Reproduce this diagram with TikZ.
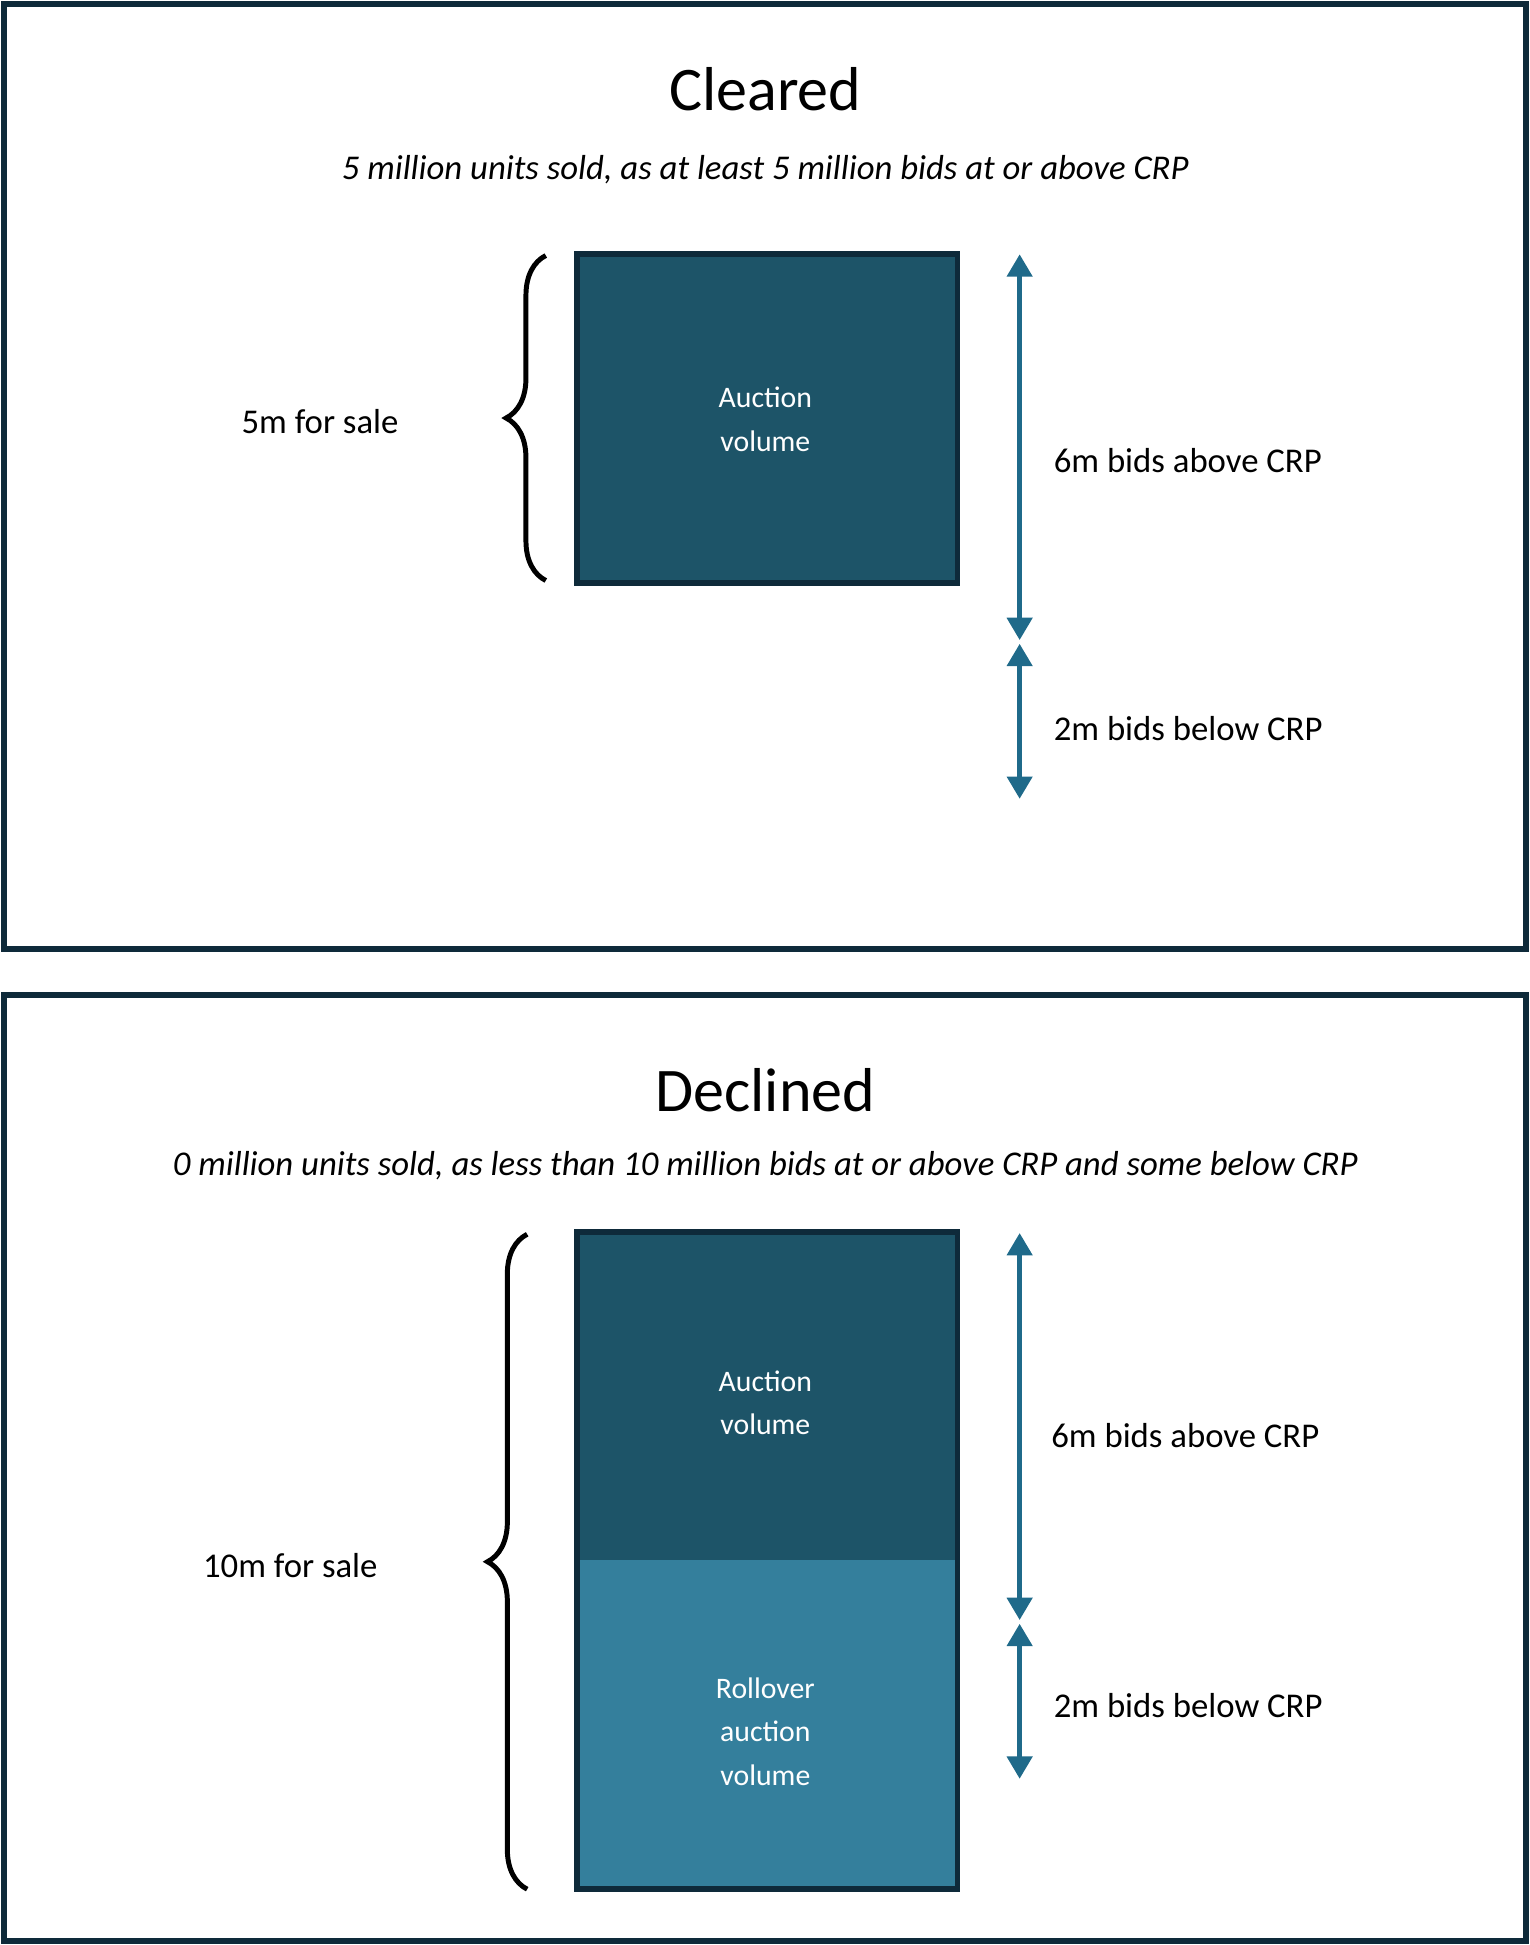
\documentclass[tikz,border=0pt]{standalone}
\usepackage{fontspec}
\setmainfont{Carlito}
\usetikzlibrary{decorations.pathreplacing,arrows.meta}
\definecolor{navy}{HTML}{0E2A3A}
\definecolor{dark}{HTML}{1D5468}
\definecolor{light}{HTML}{347F9C}
\definecolor{arr}{HTML}{1F6A8A}
\tikzset{
 panel/.style={draw=navy,line width=5pt},
 vol/.style={draw=navy,line width=4.5pt},
 voltext/.style={text=white,font=\fontsize{24}{35}\selectfont,align=center},
 title/.style={font=\fontsize{50}{60}\selectfont},
 sub/.style={font=\fontsize{28}{34}\selectfont\itshape},
 lbl/.style={font=\fontsize{28}{34}\selectfont},
 brc/.style={line width=4pt,decorate,decoration={brace,amplitude=32pt,aspect=0.5}},
 dbl/.style={arr,line width=4pt,{Triangle[length=18pt,width=20pt]}-{Triangle[length=18pt,width=20pt]}}
}
\begin{document}
\begin{tikzpicture}[x=1pt,y=-1pt]
\useasboundingbox (0,0) rectangle (1233,1568);
% panel 1
\draw[panel] (3,3) rectangle (1230,765);
\node[title] (t1) at (617,72) {Cleared};
\node[sub] (s1) at (617,137) {5 million units sold, as at least 5 million bids at or above CRP};
\draw[vol,fill=dark] (465,205) rectangle (772,470);
\node[voltext] (v1) at (617,338) {Auction\\volume};
\coordinate (b1a) at (440,468);
\coordinate (b1b) at (440,206);
\draw[brc] (b1a) -- (b1b);
\node[lbl] (f1) at (258,340) {5m for sale};
\coordinate (a1) at (822,205); \coordinate (a2) at (822,516);
\coordinate (a3) at (822,519); \coordinate (a4) at (822,644);
\draw[dbl] (a1) -- (a2);
\draw[dbl] (a3) -- (a4);
\node[lbl,anchor=west] (l1) at (846,371) {6m bids above CRP};
\node[lbl,anchor=west] (l2) at (846,587) {2m bids below CRP};
% panel 2
\draw[panel] (3,802) rectangle (1230,1565);
\node[title] (t2) at (617,879) {Declined};
\node[sub] (s2) at (617,940) {0 million units sold, as less than 10 million bids at or above CRP and some below CRP};
\fill[dark] (465,993) rectangle (772,1258);
\fill[light] (465,1258) rectangle (772,1523);
\draw[vol] (465,993) rectangle (772,1523);
\node[voltext] (v2) at (617,1131) {Auction\\volume};
\node[voltext] (v3) at (617,1396) {Rollover\\auction\\volume};
\coordinate (b2a) at (425,1523);
\coordinate (b2b) at (425,995);
\draw[brc] (b2a) -- (b2b);
\node[lbl] (f2) at (234,1262) {10m for sale};
\coordinate (c1) at (822,994); \coordinate (c2) at (822,1306);
\coordinate (c3) at (822,1309); \coordinate (c4) at (822,1434);
\draw[dbl] (c1) -- (c2);
\draw[dbl] (c3) -- (c4);
\node[lbl,anchor=west] (l3) at (844,1157) {6m bids above CRP};
\node[lbl,anchor=west] (l4) at (846,1375) {2m bids below CRP};
\end{tikzpicture}
\end{document}
